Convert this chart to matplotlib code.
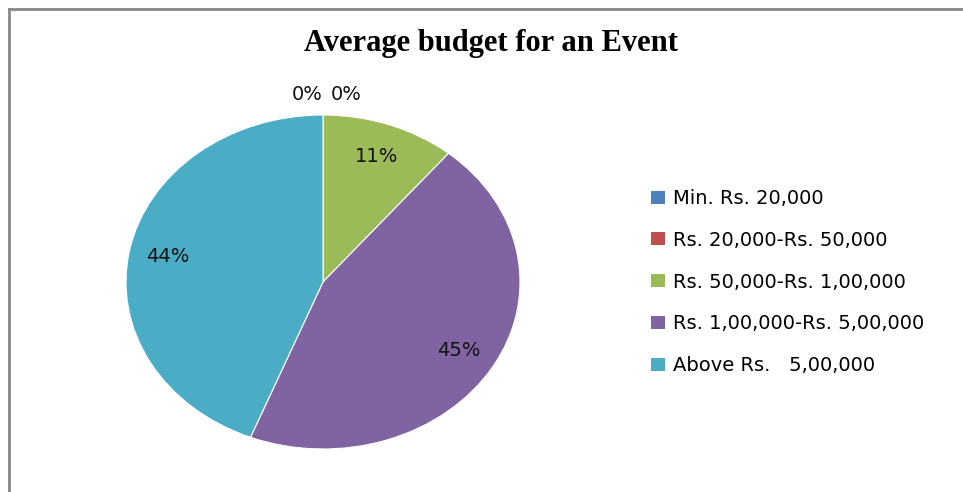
import matplotlib
matplotlib.use("Agg")
import matplotlib.pyplot as plt
from matplotlib.lines import Line2D

categories = ["Min. Rs. 20,000", "Rs. 20,000-Rs. 50,000", "Rs. 50,000-Rs. 1,00,000",
              "Rs. 1,00,000-Rs. 5,00,000", "Above Rs.   5,00,000"]
values = [0, 0, 11, 45, 44]
colors = ["#4F81BD", "#C0504D", "#9BBB59", "#8064A2", "#4BACC6"]
title = "Average budget for an Event"

W, H = 963, 492
fig = plt.figure(figsize=(W / 100, H / 100), dpi=100)

# frame border (top and left visible)
fig.add_artist(Line2D([9 / W, 9 / W], [0, 1 - 9 / H], transform=fig.transFigure, color="#888888", lw=2))
fig.add_artist(Line2D([9 / W, 1], [1 - 9 / H, 1 - 9 / H], transform=fig.transFigure, color="#888888", lw=2))

cx, cy, rx, ry = 323, 282, 197, 167
ax = fig.add_axes([(cx - rx) / W, (H - cy - ry) / H, 2 * rx / W, 2 * ry / H])
wedges, texts, autotexts = ax.pie(values, colors=colors, startangle=90, counterclock=False,
                                  autopct=lambda p: f"{p:.0f}%", pctdistance=0.8,
                                  wedgeprops=dict(edgecolor="white", linewidth=0.8),
                                  textprops=dict(fontsize=14, family="DejaVu Sans", color="#111111"))
ax.set_aspect("auto")
ax.set_xlim(-1, 1)
ax.set_ylim(-1, 1)

# zero-size slices: labels placed above the pie, side by side
zero_pos = [(-0.08, 1.12), (0.117, 1.12)]
zi = 0
for v, t in zip(values, autotexts):
    if v == 0:
        t.set_position(zero_pos[zi])
        zi += 1

fig.text(491 / W, 1 - 43 / H, title, ha="center", va="center", fontsize=22,
         fontweight="bold", family="Liberation Serif")

handles = [plt.Rectangle((0, 0), 1, 1, facecolor=c, edgecolor="none") for c in colors]
fig.legend(handles, categories, loc="center left", bbox_to_anchor=(651 / W, 1 - 282 / H),
           frameon=False, prop=dict(family="DejaVu Sans", size=14), handlelength=0.7,
           handleheight=0.65, handletextpad=0.45, labelspacing=1.17, borderpad=0, borderaxespad=0)

fig.savefig("out.png", dpi=100, facecolor="white")
